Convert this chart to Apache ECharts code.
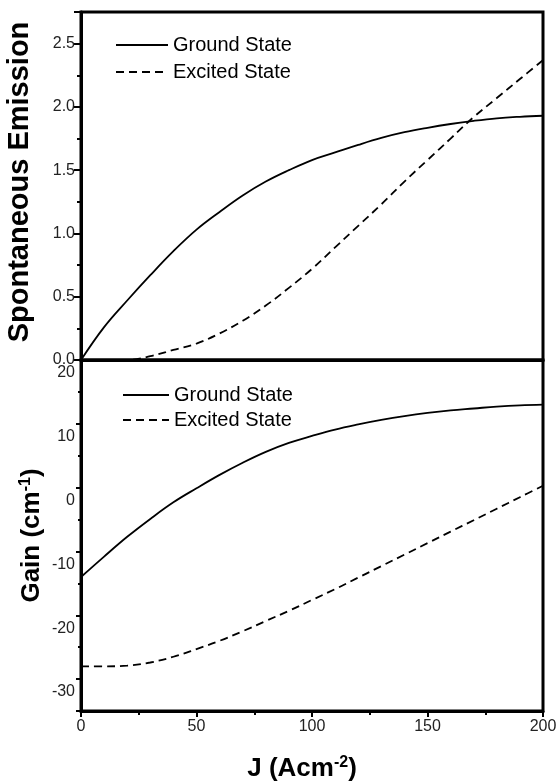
<!DOCTYPE html>
<html>
<head>
<meta charset="utf-8">
<script src="https://cdn.jsdelivr.net/npm/echarts@6/dist/echarts.min.js"></script>
<style>
html,body{margin:0;padding:0;background:#fff;}
#chart{width:560px;height:781px;}
</style>
</head>
<body>
<div id="chart"></div>
<script>
// Current density J (A/cm^2)
var J = [0,10,20,30,40,50,60,70,80,90,100,110,120,130,140,150,160,170,180,190,200];
// Spontaneous emission (top panel)
var spontGround  = [0,0.26,0.47,0.67,0.86,1.03,1.17,1.30,1.41,1.50,1.58,1.64,1.70,1.755,1.80,1.835,1.865,1.89,1.91,1.922,1.93];
var spontExcited = [0,0,0,0.03,0.08,0.13,0.21,0.31,0.43,0.57,0.72,0.89,1.06,1.23,1.41,1.58,1.75,1.92,2.07,2.22,2.37];
// Gain (bottom panel, cm^-1)
var gainGround  = [-14.0,-10.8,-7.7,-4.9,-2.3,-0.1,2.0,3.9,5.6,7.0,8.1,9.1,9.9,10.6,11.2,11.7,12.1,12.4,12.7,12.9,13.0];
var gainExcited = [-28.0,-28.0,-27.9,-27.4,-26.5,-25.3,-24.0,-22.5,-20.9,-19.3,-17.6,-15.9,-14.1,-12.3,-10.5,-8.7,-6.9,-5.1,-3.3,-1.5,0.3];
var seriesNames = ['Ground State','Excited State'];
var xTicks = {min:0, max:200, interval:50};

function pairs(xs, ys){ return xs.map(function(x,i){ return [x, ys[i]]; }); }

var chart = echarts.init(document.getElementById('chart'), null, {renderer:'canvas'});
var FONT = '"Liberation Sans", Arial, sans-serif';
var lineSolid = {color:'#000', width:1.8, type:'solid'};
var lineDash = {color:'#000', width:1.8, type:[8,5]};
var supStyle = {fontFamily:FONT, fontSize:16, fontWeight:'bold', color:'#000', verticalAlign:'top', padding:[0,0,12,0]};

var option = {
  backgroundColor:'#fff',
  animation:false,
  grid:[
    {left:81, top:12, width:462, height:348, show:true, borderColor:'#000', borderWidth:3, backgroundColor:'transparent', outerBoundsMode:'none', containLabel:false},
    {left:81, top:360, width:462, height:351, show:true, borderColor:'#000', borderWidth:3, backgroundColor:'transparent', outerBoundsMode:'none', containLabel:false}
  ],
  legend:[
    {data:seriesNames, orient:'vertical', left:115, top:35, padding:0, itemWidth:52, itemHeight:20, itemGap:7, selectedMode:false,
     itemStyle:{opacity:0, borderWidth:0}, textStyle:{fontFamily:FONT, fontSize:20, color:'#000'}},
    {data:seriesNames, orient:'vertical', left:122, top:385, padding:0, itemWidth:46, itemHeight:20, itemGap:5, selectedMode:false,
     itemStyle:{opacity:0, borderWidth:0}, textStyle:{fontFamily:FONT, fontSize:20, color:'#000'}}
  ],
  xAxis:[
    {type:'value', gridIndex:0, min:xTicks.min, max:xTicks.max, interval:xTicks.interval,
     axisLine:{lineStyle:{color:'#000', width:3}}, axisTick:{show:false}, axisLabel:{show:false}, splitLine:{show:false}},
    {type:'value', gridIndex:1, min:xTicks.min, max:xTicks.max, interval:xTicks.interval,
     name:'J (Acm{sup|-2})', nameLocation:'middle', nameGap:44, nameMoveOverlap:false,
     nameTextStyle:{fontFamily:FONT, fontSize:26, fontWeight:'bold', color:'#000', padding:[0,20,0,0], rich:{sup:supStyle}},
     axisLine:{onZero:false, lineStyle:{color:'#000', width:3}},
     axisTick:{show:true, length:6, lineStyle:{color:'#000', width:2}},
     minorTick:{show:true, splitNumber:2, length:4, lineStyle:{color:'#000', width:2}},
     axisLabel:{fontFamily:FONT, fontSize:16, color:'#222', margin:8}, splitLine:{show:false}}
  ],
  yAxis:[
    {type:'value', gridIndex:0, min:0, max:2.75, interval:0.5,
     name:'Spontaneous Emission', nameLocation:'middle', nameGap:47, nameMoveOverlap:false,
     nameTextStyle:{fontFamily:FONT, fontSize:29, fontWeight:'bold', color:'#000', padding:[0,0,0,8]},
     axisLine:{lineStyle:{color:'#000', width:3}},
     axisTick:{show:true, length:7, lineStyle:{color:'#000', width:2}},
     minorTick:{show:true, splitNumber:2, length:4, lineStyle:{color:'#000', width:2}},
     axisLabel:{fontFamily:FONT, fontSize:16, color:'#222', margin:6, showMaxLabel:false,
       formatter:function(v){ return v.toFixed(1); }},
     splitLine:{show:false}},
    {type:'value', gridIndex:1, min:-35, max:20, splitNumber:5,
     name:'Gain (cm{sup|-1})', nameLocation:'middle', nameGap:35, nameMoveOverlap:false,
     nameTextStyle:{fontFamily:FONT, fontSize:26, fontWeight:'bold', color:'#000', rich:{sup:supStyle}},
     axisLine:{lineStyle:{color:'#000', width:3}},
     axisTick:{show:true, length:5, lineStyle:{color:'#000', width:2}},
     minorTick:{show:true, splitNumber:2, length:3, lineStyle:{color:'#000', width:2}},
     axisLabel:{fontFamily:FONT, fontSize:16, color:'#222', margin:6, showMinLabel:false, showMaxLabel:true,
       verticalAlign:'top', padding:[5,0,0,0]},
     splitLine:{show:false}}
  ],
  series:[
    {name:seriesNames[0], type:'line', xAxisIndex:0, yAxisIndex:0, data:pairs(J, spontGround),
     smooth:0.4, symbol:'none', lineStyle:lineSolid, itemStyle:{color:'#000'}},
    {name:seriesNames[1], type:'line', xAxisIndex:0, yAxisIndex:0, data:pairs(J, spontExcited),
     smooth:0.4, symbol:'none', lineStyle:lineDash, itemStyle:{color:'#000'}},
    {name:seriesNames[0], type:'line', xAxisIndex:1, yAxisIndex:1, data:pairs(J, gainGround),
     smooth:0.4, symbol:'none', lineStyle:lineSolid, itemStyle:{color:'#000'}},
    {name:seriesNames[1], type:'line', xAxisIndex:1, yAxisIndex:1, data:pairs(J, gainExcited),
     smooth:0.4, symbol:'none', lineStyle:lineDash, itemStyle:{color:'#000'}}
  ]
};
chart.setOption(option);
</script>
</body>
</html>
